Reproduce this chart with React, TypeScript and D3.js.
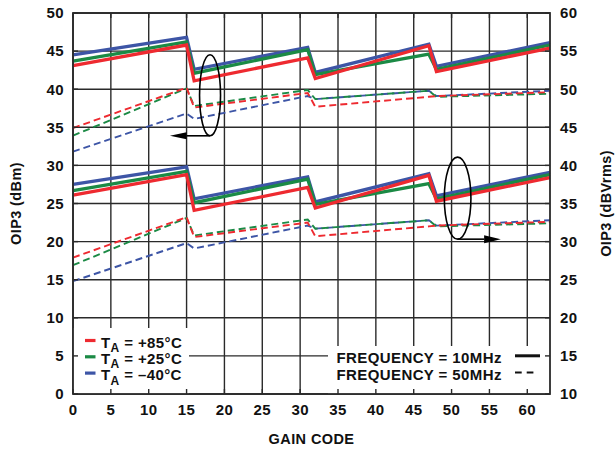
import React from "react";
import * as d3 from "d3";

const codes = [0, 15, 16, 31, 32, 47, 48, 63];

// OIP3 (dBm), left axis
const dbm10Red = [43.1, 45.8, 41.1, 44.1, 41.4, 45.7, 42.3, 45.4];
const dbm10Green = [43.7, 46.2, 42.1, 45.2, 41.9, 44.6, 42.6, 45.8];
const dbm10Blue = [44.5, 46.8, 42.6, 45.5, 42.2, 45.9, 43.0, 46.1];
const dbm50Red = [34.9, 40.2, 37.6, 39.5, 37.7, 39.0, 39.1, 39.6];
const dbm50Green = [33.9, 40.1, 37.8, 39.9, 38.7, 39.8, 39.0, 39.4];
const dbm50Blue = [31.8, 36.8, 36.1, 39.1, 38.7, 39.8, 39.1, 39.8];

// OIP3 (dBVrms), right axis
const dbv10Red = [36.1, 38.8, 34.1, 37.1, 34.4, 38.7, 35.3, 38.4];
const dbv10Green = [36.7, 39.2, 35.1, 38.2, 34.9, 37.6, 35.6, 38.8];
const dbv10Blue = [37.5, 39.8, 35.6, 38.5, 35.2, 38.9, 36.0, 39.1];
const dbv50Red = [27.9, 33.2, 30.6, 32.5, 30.7, 32.0, 32.1, 32.6];
const dbv50Green = [26.9, 33.1, 30.8, 32.9, 31.7, 32.8, 32.0, 32.4];
const dbv50Blue = [24.8, 29.8, 29.1, 32.1, 31.7, 32.8, 32.1, 32.8];

const xTicks = [0, 5, 10, 15, 20, 25, 30, 35, 40, 45, 50, 55, 60];
const leftTicks = [0, 5, 10, 15, 20, 25, 30, 35, 40, 45, 50];
const rightTicks = [10, 15, 20, 25, 30, 35, 40, 45, 50, 55, 60];

const tempLabels = ["+85°C", "+25°C", "–40°C"];
const freqLabels = ["FREQUENCY = 10MHz", "FREQUENCY = 50MHz"];

const RED = "#ee2a30";
const GREEN = "#1b8a45";
const BLUE = "#3d55a6";

const FONT = "'Liberation Sans', Arial, sans-serif";

export default function App() {
  const W = 616;
  const H = 450;
  const x0 = 73;
  const x1 = 550;
  const yTop = 13;
  const yBot = 394;

  const x = d3.scaleLinear().domain([0, 63]).range([x0, x1]);
  const yL = d3.scaleLinear().domain([0, 50]).range([yBot, yTop]);
  const yR = d3.scaleLinear().domain([10, 60]).range([yBot, yTop]);

  const lineL = d3
    .line<number>()
    .x((_, i) => x(codes[i]))
    .y((d) => yL(d));
  const lineR = d3
    .line<number>()
    .x((_, i) => x(codes[i]))
    .y((d) => yR(d));

  const series = [
    { vals: dbm50Blue, color: BLUE, dashed: true, gen: lineL },
    { vals: dbm50Green, color: GREEN, dashed: true, gen: lineL },
    { vals: dbm50Red, color: RED, dashed: true, gen: lineL },
    { vals: dbv50Blue, color: BLUE, dashed: true, gen: lineR },
    { vals: dbv50Green, color: GREEN, dashed: true, gen: lineR },
    { vals: dbv50Red, color: RED, dashed: true, gen: lineR },
    { vals: dbm10Blue, color: BLUE, dashed: false, gen: lineL },
    { vals: dbm10Green, color: GREEN, dashed: false, gen: lineL },
    { vals: dbm10Red, color: RED, dashed: false, gen: lineL },
    { vals: dbv10Blue, color: BLUE, dashed: false, gen: lineR },
    { vals: dbv10Green, color: GREEN, dashed: false, gen: lineR },
    { vals: dbv10Red, color: RED, dashed: false, gen: lineR },
  ];

  const gridColor = "#2a2a2a";
  const textStyle = {
    fontFamily: FONT,
    fontWeight: 700,
    fontSize: 15,
    letterSpacing: 0.4,
    fill: "#111",
  } as const;

  // annotations (in data units)
  const e1 = { cx: x(18.1), cy: yL(39.2), rx: 10.5, ry: 40.5 };
  const e1Bottom = e1.cy + e1.ry;
  const a1Base = x(15);
  const a1Tip = x(12.8);

  const e2 = { cx: x(50.8), cy: yR(35.7), rx: 13.3, ry: 41 };
  const e2Bottom = e2.cy + e2.ry;
  const a2Base = x(54.3);
  const a2Tip = x(56.5);

  const tickLen = 5;

  return (
    <svg
      width={W}
      height={H}
      style={{ position: "absolute", left: 0, top: 0, background: "#fff" }}
    >
      <rect x={0} y={0} width={W} height={H} fill="#fff" />
      {/* grid */}
      <g stroke={gridColor} strokeWidth={1.4}>
        {xTicks.map((t) => (
          <line key={"gx" + t} x1={x(t)} x2={x(t)} y1={yTop} y2={yBot} />
        ))}
        {leftTicks.map((t) => (
          <line key={"gy" + t} x1={x0} x2={x1} y1={yL(t)} y2={yL(t)} />
        ))}
      </g>

      {/* data lines */}
      <g fill="none" strokeLinejoin="miter">
        {series.map((s, i) => (
          <path
            key={i}
            d={s.gen(s.vals) || ""}
            stroke={s.color}
            strokeWidth={s.dashed ? 1.9 : 3.3}
            strokeDasharray={s.dashed ? "7 4" : undefined}
          />
        ))}
      </g>

      {/* annotations */}
      <g fill="none" stroke="#000" strokeWidth={1.6}>
        <ellipse cx={e1.cx} cy={e1.cy} rx={e1.rx} ry={e1.ry} />
        <line x1={e1.cx} x2={a1Base} y1={e1Bottom} y2={e1Bottom} />
        <ellipse cx={e2.cx} cy={e2.cy} rx={e2.rx} ry={e2.ry} />
        <line x1={e2.cx} x2={a2Base} y1={e2Bottom} y2={e2Bottom} />
      </g>
      <path
        d={`M${a1Tip},${e1Bottom} L${a1Base},${e1Bottom - 3.5} L${a1Base},${e1Bottom + 3.5} Z`}
        fill="#000"
      />
      <path
        d={`M${a2Tip},${e2Bottom} L${a2Base},${e2Bottom - 4} L${a2Base},${e2Bottom + 4} Z`}
        fill="#000"
      />

      {/* legend boxes */}
      <rect x={x0} y={328} width={116} height={yBot - 328} fill="#fff" />
      <rect x={328} y={346} width={x1 - 328} height={yBot - 346} fill="#fff" />

      {/* inner ticks */}
      <g stroke={gridColor} strokeWidth={1.4}>
        {xTicks.map((t) => (
          <g key={"tx" + t}>
            <line x1={x(t)} x2={x(t)} y1={yBot} y2={yBot - tickLen} />
            <line x1={x(t)} x2={x(t)} y1={yTop} y2={yTop + tickLen} />
          </g>
        ))}
        {leftTicks.map((t) => (
          <g key={"ty" + t}>
            <line x1={x0} x2={x0 + tickLen} y1={yL(t)} y2={yL(t)} />
            <line x1={x1} x2={x1 - tickLen} y1={yL(t)} y2={yL(t)} />
          </g>
        ))}
      </g>

      {/* frame */}
      <rect
        x={x0}
        y={yTop}
        width={x1 - x0}
        height={yBot - yTop}
        fill="none"
        stroke={gridColor}
        strokeWidth={1.8}
      />

      {/* left legend */}
      {tempLabels.map((lab, i) => {
        const base = 347.5 + i * 16.3;
        const col = [RED, GREEN, BLUE][i];
        return (
          <g key={"tl" + i}>
            <line x1={85} x2={95.5} y1={base - 7} y2={base - 7} stroke={col} strokeWidth={3.2} />
            <text x={101} y={base} style={textStyle}>
              <tspan>T</tspan>
              <tspan fontSize={12} dy={4.5}>A</tspan>
              <tspan dy={-4.5}>{" = " + lab}</tspan>
            </text>
          </g>
        );
      })}

      {/* right legend */}
      {freqLabels.map((lab, i) => {
        const base = 363.3 + i * 16.7;
        return (
          <g key={"fl" + i}>
            <text x={336.5} y={base} style={textStyle}>
              {lab}
            </text>
            <line
              x1={515}
              x2={i === 0 ? 540 : 533.5}
              y1={base - 7.5}
              y2={base - 7.5}
              stroke="#111"
              strokeWidth={i === 0 ? 3 : 1.9}
              strokeDasharray={i === 0 ? undefined : "6.7 5"}
            />
          </g>
        );
      })}

      {/* tick labels */}
      {xTicks.map((t) => (
        <text key={"xl" + t} x={x(t)} y={415} textAnchor="middle" style={textStyle}>
          {t}
        </text>
      ))}
      {leftTicks.map((t) => (
        <text key={"ll" + t} x={64} y={yL(t) + 5.3} textAnchor="end" style={textStyle}>
          {t}
        </text>
      ))}
      {rightTicks.map((t) => (
        <text key={"rl" + t} x={560} y={yR(t) + 5.3} textAnchor="start" style={textStyle}>
          {t}
        </text>
      ))}

      {/* axis titles */}
      <text
        x={(x0 + x1) / 2}
        y={444}
        textAnchor="middle"
        style={{ ...textStyle, fontSize: 14.5 }}
      >
        GAIN CODE
      </text>
      <text
        transform={`translate(20.5, ${(yTop + yBot) / 2}) rotate(-90)`}
        textAnchor="middle"
        style={{ ...textStyle, fontSize: 14.5 }}
      >
        OIP3 (dBm)
      </text>
      <text
        transform={`translate(611, ${(yTop + yBot) / 2}) rotate(-90)`}
        textAnchor="middle"
        style={{ ...textStyle, fontSize: 14.5 }}
      >
        OIP3 (dBVrms)
      </text>
    </svg>
  );
}
